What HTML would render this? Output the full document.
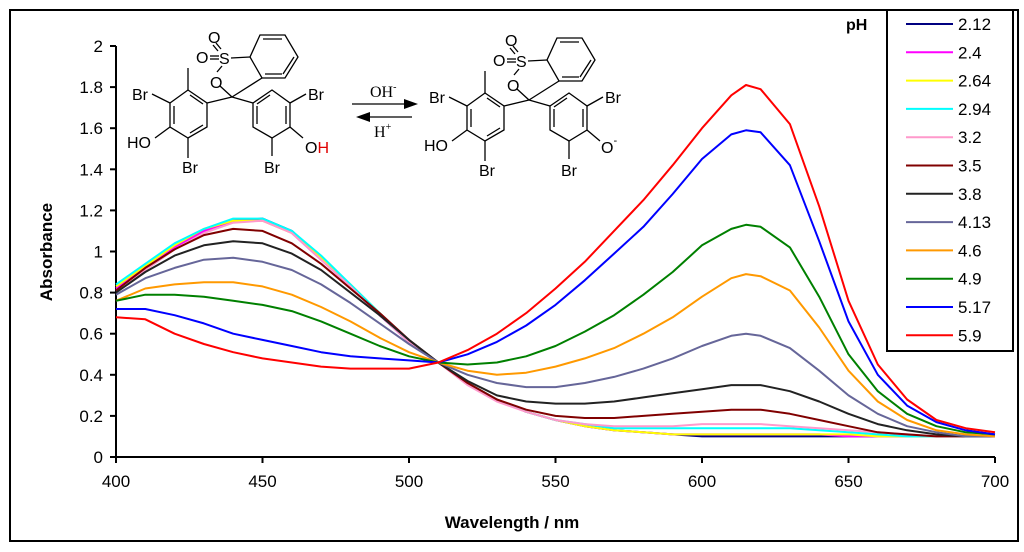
<!DOCTYPE html>
<html><head><meta charset="utf-8">
<style>
html,body{margin:0;padding:0;background:#fff;}
svg{display:block;font-family:"Liberation Sans",Arial,sans-serif;}
</style></head>
<body>
<svg id="chart" width="1024" height="552" viewBox="0 0 1024 552">
<rect x="10" y="10" width="1008" height="531" fill="none" stroke="#000" stroke-width="2"/>
<g id="axes"></g>
<g id="series"></g>
<defs>
<g id="mol" stroke="#000" stroke-width="1.3" fill="none">
  <polygon points="170,103 188,90 207,103 207,127 188,138 170,127"/>
  <line x1="174" y1="106" x2="174" y2="124"/><line x1="190" y1="95" x2="203" y2="104"/><line x1="190" y1="133" x2="203" y2="125"/>
  <line x1="188" y1="90" x2="188" y2="68"/>
  <line x1="170" y1="103" x2="152" y2="94"/><line x1="170" y1="127" x2="155" y2="138"/><line x1="188" y1="138" x2="188" y2="158"/>
  <polygon points="253,103 272,90 290,103 290,127 272,138 253,127"/>
  <line x1="257" y1="106" x2="257" y2="124"/><line x1="270" y1="95" x2="257" y2="104"/><line x1="286" y1="106" x2="286" y2="124"/>
  <line x1="290" y1="103" x2="306" y2="94"/><line x1="272" y1="138" x2="272" y2="156"/>
  <line x1="207" y1="103" x2="232" y2="97"/><line x1="232" y1="97" x2="253" y2="103"/>
  <line x1="232" y1="97" x2="220" y2="86"/><line x1="232" y1="97" x2="262" y2="78"/>
  <line x1="217" y1="72" x2="222" y2="66"/>
  <polygon points="260,35 285,35 298,57 285,78 262,78 250,57"/>
  <line x1="263" y1="39" x2="282" y2="39"/><line x1="294" y1="57" x2="283" y2="74"/><line x1="265" y1="74" x2="282" y2="74"/>
  <line x1="231" y1="58" x2="250" y2="57"/>
  <line x1="213" y1="45" x2="218" y2="51"/><line x1="216" y1="43" x2="221" y2="49"/>
  <line x1="210" y1="56" x2="219" y2="56"/><line x1="210" y1="59" x2="219" y2="59"/>
  <g stroke="none" fill="#000" font-size="16">
   <text x="132" y="100">Br</text><text x="127" y="148">HO</text><text x="182" y="173">Br</text>
   <text x="196" y="63">O</text><text x="208" y="43">O</text><text x="219" y="64">S</text><text x="210" y="88">O</text>
   <text x="308" y="100">Br</text><text x="264" y="173">Br</text>
  </g>
</g>
</defs>
<g id="structure">
  <use href="#mol"/>
  <line x1="290" y1="127" x2="303" y2="138" stroke="#000" stroke-width="1.3"/>
  <text x="305" y="153" font-size="16">O<tspan fill="#e00000">H</tspan></text>
  <g transform="translate(297,3)">
    <use href="#mol"/>
    <line x1="290" y1="127" x2="303" y2="138" stroke="#000" stroke-width="1.3"/>
    <text x="304" y="150" font-size="16">O<tspan font-size="11" dy="-9">-</tspan></text>
  </g>
  <line x1="352" y1="104" x2="405" y2="104" stroke="#000" stroke-width="1.2"/><polygon points="418,104 404,99 404,109" fill="#000"/>
  <line x1="368" y1="117" x2="412" y2="117" stroke="#000" stroke-width="1.2"/><polygon points="356,117 370,112 370,122" fill="#000"/>
  <g fill="#000" font-family="Liberation Serif,serif" font-size="16">
   <text x="370" y="97">OH<tspan font-size="10" dy="-7">-</tspan></text>
   <text x="374" y="137">H<tspan font-size="10" dy="-7">+</tspan></text>
  </g>
</g>
<g id="legend"></g>
</svg>
<script>
const wavelengths=[400,410,420,430,440,450,460,470,480,490,500,510,520,530,540,550,560,570,580,590,600,610,615,620,630,640,650,660,670,680,690,700];
const phLabels=["2.12","2.4","2.64","2.94","3.2","3.5","3.8","4.13","4.6","4.9","5.17","5.9"];
const colors=["#000080","#ff00ff","#ffff00","#00ffff","#ff99cc","#800000","#222222","#666699","#ff9900","#008000","#0000ff","#ff0000"];
const s212=[0.82,0.92,1.02,1.10,1.15,1.16,1.10,0.97,0.83,0.69,0.56,0.46,0.36,0.28,0.22,0.18,0.15,0.13,0.12,0.11,0.10,0.10,0.10,0.10,0.10,0.10,0.10,0.10,0.10,0.10,0.10,0.10];
const s240=[0.82,0.92,1.02,1.10,1.15,1.15,1.09,0.96,0.83,0.69,0.56,0.46,0.36,0.28,0.22,0.18,0.15,0.13,0.12,0.11,0.11,0.11,0.11,0.11,0.11,0.11,0.10,0.10,0.10,0.10,0.10,0.10];
const s264=[0.83,0.93,1.03,1.11,1.15,1.15,1.09,0.97,0.84,0.70,0.56,0.46,0.36,0.28,0.22,0.18,0.15,0.13,0.12,0.11,0.11,0.11,0.11,0.11,0.11,0.11,0.11,0.10,0.10,0.10,0.10,0.10];
const s294=[0.84,0.94,1.04,1.11,1.16,1.16,1.10,0.98,0.84,0.70,0.56,0.46,0.36,0.28,0.22,0.18,0.16,0.14,0.14,0.14,0.14,0.14,0.14,0.14,0.14,0.13,0.12,0.11,0.10,0.10,0.10,0.10];
const s320=[0.81,0.91,1.01,1.09,1.14,1.15,1.09,0.96,0.83,0.69,0.56,0.46,0.35,0.27,0.22,0.18,0.16,0.15,0.15,0.15,0.16,0.16,0.16,0.16,0.15,0.14,0.13,0.12,0.11,0.10,0.10,0.10];
const s350=[0.81,0.92,1.01,1.08,1.11,1.10,1.04,0.94,0.82,0.70,0.57,0.46,0.36,0.28,0.23,0.20,0.19,0.19,0.20,0.21,0.22,0.23,0.23,0.23,0.21,0.18,0.15,0.12,0.11,0.10,0.10,0.10];
const s380=[0.80,0.90,0.98,1.03,1.05,1.04,0.99,0.91,0.80,0.69,0.57,0.46,0.37,0.30,0.27,0.26,0.26,0.27,0.29,0.31,0.33,0.35,0.35,0.35,0.32,0.27,0.21,0.16,0.13,0.11,0.10,0.10];
const s413=[0.79,0.87,0.92,0.96,0.97,0.95,0.91,0.84,0.75,0.65,0.55,0.46,0.40,0.36,0.34,0.34,0.36,0.39,0.43,0.48,0.54,0.59,0.60,0.59,0.53,0.42,0.30,0.21,0.15,0.12,0.10,0.10];
const s460=[0.76,0.82,0.84,0.85,0.85,0.83,0.79,0.73,0.66,0.58,0.51,0.46,0.42,0.40,0.41,0.44,0.48,0.53,0.60,0.68,0.78,0.87,0.89,0.88,0.81,0.63,0.42,0.27,0.18,0.13,0.11,0.10];
const s490=[0.76,0.79,0.79,0.78,0.76,0.74,0.71,0.66,0.60,0.54,0.49,0.46,0.45,0.46,0.49,0.54,0.61,0.69,0.79,0.90,1.03,1.11,1.13,1.12,1.02,0.78,0.50,0.32,0.21,0.15,0.12,0.11];
const s517=[0.72,0.72,0.69,0.65,0.60,0.57,0.54,0.51,0.49,0.48,0.47,0.46,0.50,0.56,0.64,0.74,0.86,0.99,1.12,1.28,1.45,1.57,1.59,1.58,1.42,1.05,0.66,0.40,0.25,0.17,0.13,0.11];
const s590=[0.68,0.67,0.60,0.55,0.51,0.48,0.46,0.44,0.43,0.43,0.43,0.46,0.52,0.60,0.70,0.82,0.95,1.10,1.25,1.42,1.60,1.76,1.81,1.79,1.62,1.22,0.76,0.45,0.28,0.18,0.14,0.12];
const seriesValues=[s212,s240,s264,s294,s320,s350,s380,s413,s460,s490,s517,s590];
const xTicks=[400,450,500,550,600,650,700];
const yTicks=[0,0.2,0.4,0.6,0.8,1,1.2,1.4,1.6,1.8,2];

const NS="http://www.w3.org/2000/svg";
const X0=116,X1=995,Y0=457,Y1=46;
function xs(w){return X0+(w-400)/300*(X1-X0);}
function ys(v){return Y0-v/2*(Y0-Y1);}
function mk(tag,attrs,parent){const e=document.createElementNS(NS,tag);for(const k in attrs)e.setAttribute(k,attrs[k]);parent.appendChild(e);return e;}
const axes=document.getElementById('axes');
let yl=mk('line',{x1:X0,y1:Y0,x2:X0,y2:Y1,stroke:'#000','stroke-width':2},axes);


let xl=mk('line',{x1:X0,y1:Y0,x2:X1,y2:Y0,stroke:'#000','stroke-width':2},axes);


yTicks.forEach(v=>{
  const t=mk('line',{x1:X0-6,y1:ys(v),x2:X0,y2:ys(v),stroke:'#000','stroke-width':2},axes);
  
  
  const l=mk('text',{x:X0-13,y:ys(v)+6,'text-anchor':'end','font-size':'17'},axes);
  l.textContent=String(v);
  
  
});
xTicks.forEach(v=>{
  const t=mk('line',{x1:xs(v),y1:Y0,x2:xs(v),y2:Y0+6,stroke:'#000','stroke-width':2},axes);
  
  
  const l=mk('text',{x:xs(v),y:Y0+30,'text-anchor':'middle','font-size':'17'},axes);
  l.textContent=String(v);
  
  
});
let xt=mk('text',{x:512,y:528,'text-anchor':'middle','font-size':'17','font-weight':'bold'},axes);
xt.textContent='Wavelength / nm';


let yt=mk('text',{x:52,y:252,'text-anchor':'middle','font-size':'17','font-weight':'bold',transform:'rotate(-90 52 252)'},axes);
yt.textContent='Absorbance';



const sg=document.getElementById('series');
seriesValues.forEach((vals,i)=>{
  const pts=vals.map((v,j)=>xs(wavelengths[j]).toFixed(1)+','+ys(v).toFixed(1)).join(' ');
  const p=mk('polyline',{points:pts,fill:'none',stroke:colors[i],'stroke-width':2,'stroke-linejoin':'round'},sg);
  
  
});

const lg=document.getElementById('legend');
let box=mk('rect',{x:887,y:10,width:126,height:341,fill:'#fff',stroke:'#000','stroke-width':2},lg);


let ph=mk('text',{x:846,y:30,'font-size':'16','font-weight':'bold'},lg);
ph.textContent='pH';


phLabels.forEach((lab,i)=>{
  const y=24+i*28.3;
  const l=mk('line',{x1:906,y1:y,x2:953,y2:y,stroke:colors[i],'stroke-width':2},lg);
  
  
  const t=mk('text',{x:958,y:y+6,'font-size':'17'},lg);
  t.textContent=lab;
  
  
});
</script>
</body></html>
